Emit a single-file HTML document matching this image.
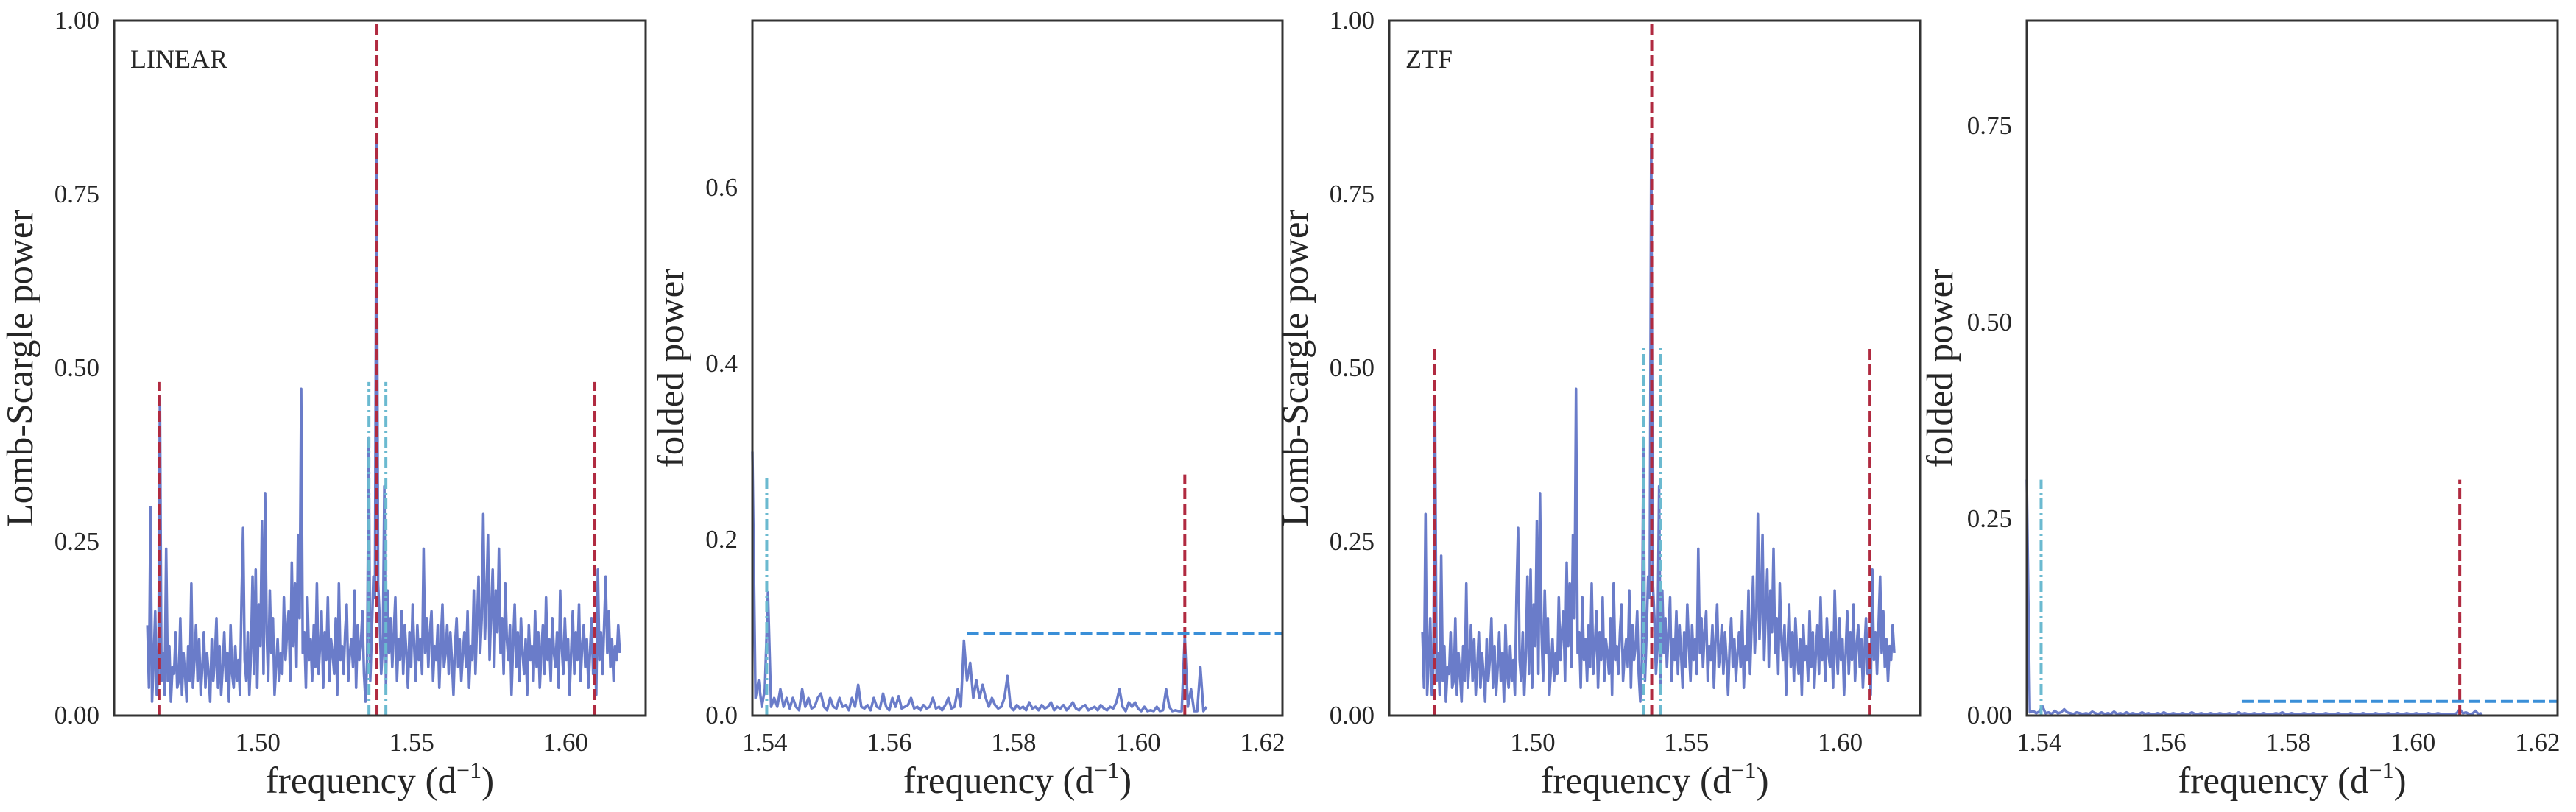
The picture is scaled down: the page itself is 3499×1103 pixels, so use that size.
<!DOCTYPE html>
<html><head><meta charset="utf-8">
<style>
html,body{margin:0;padding:0;background:#fff;}
svg{display:block;}
text{font-family:"Liberation Serif","DejaVu Serif",serif;fill:#262626;}
</style></head>
<body>
<svg id="fig" width="3499" height="1103" viewBox="0 0 3499 1103" xmlns="http://www.w3.org/2000/svg"></svg>
<script>
// ---- data ----
const lsStart = 1.4641, lsStep = 0.00051;
const linearPower = [
0.13,0.04,0.30,0.02,0.08,0.15,0.03,0.06,0.46,0.05,
0.09,0.03,0.24,0.05,0.10,0.02,0.07,0.06,0.12,0.04,
0.05,0.14,0.03,0.09,0.06,0.02,0.10,0.05,0.19,0.04,
0.08,0.13,0.05,0.11,0.03,0.07,0.12,0.04,0.09,0.06,
0.02,0.11,0.05,0.08,0.14,0.04,0.10,0.03,0.07,0.12,
0.05,0.09,0.02,0.13,0.06,0.04,0.10,0.05,0.08,0.03,
0.17,0.27,0.08,0.05,0.12,0.03,0.09,0.20,0.06,0.21,
0.04,0.16,0.10,0.28,0.06,0.32,0.12,0.05,0.18,0.09,
0.14,0.03,0.07,0.11,0.05,0.09,0.06,0.17,0.08,0.12,
0.15,0.05,0.22,0.10,0.19,0.07,0.26,0.14,0.47,0.09,
0.12,0.04,0.17,0.08,0.11,0.05,0.13,0.07,0.19,0.06,
0.10,0.15,0.04,0.12,0.08,0.17,0.05,0.11,0.09,0.06,
0.14,0.03,0.19,0.08,0.10,0.06,0.12,0.16,0.05,0.09,
0.11,0.07,0.18,0.04,0.13,0.08,0.10,0.15,0.06,0.02,
0.08,0.40,0.05,0.12,0.20,0.17,0.83,0.19,0.14,0.06,
0.10,0.33,0.04,0.18,0.09,0.14,0.07,0.12,0.17,0.05,
0.11,0.08,0.15,0.06,0.13,0.09,0.04,0.12,0.07,0.16,
0.10,0.05,0.13,0.08,0.11,0.06,0.24,0.09,0.14,0.07,
0.12,0.15,0.05,0.10,0.08,0.13,0.04,0.11,0.16,0.07,
0.09,0.13,0.06,0.12,0.08,0.03,0.10,0.14,0.07,0.11,
0.05,0.09,0.12,0.07,0.15,0.04,0.10,0.08,0.18,0.06,
0.13,0.20,0.09,0.14,0.29,0.11,0.17,0.26,0.08,0.15,
0.21,0.07,0.18,0.12,0.24,0.09,0.14,0.06,0.19,0.11,
0.08,0.13,0.03,0.10,0.16,0.07,0.12,0.05,0.14,0.09,
0.06,0.11,0.03,0.13,0.08,0.10,0.05,0.15,0.07,0.12,
0.04,0.09,0.13,0.06,0.17,0.08,0.11,0.05,0.14,0.09,
0.07,0.12,0.04,0.18,0.10,0.06,0.14,0.08,0.11,0.03,
0.09,0.15,0.06,0.12,0.08,0.16,0.05,0.10,0.13,0.07,
0.11,0.04,0.09,0.14,0.06,0.10,0.03,0.21,0.08,0.12,
0.06,0.13,0.20,0.09,0.15,0.07,0.11,0.05,0.10,0.08,0.13,0.09];
const ztfPower = [
0.12,0.04,0.29,0.03,0.08,0.14,0.03,0.07,0.46,0.05,
0.09,0.03,0.23,0.05,0.10,0.02,0.07,0.06,0.12,0.04,
0.05,0.14,0.03,0.09,0.06,0.02,0.10,0.05,0.19,0.04,
0.08,0.13,0.05,0.11,0.03,0.07,0.12,0.04,0.09,0.06,
0.02,0.11,0.05,0.08,0.14,0.04,0.10,0.03,0.07,0.12,
0.05,0.09,0.02,0.13,0.06,0.04,0.10,0.05,0.08,0.03,
0.17,0.27,0.08,0.05,0.12,0.03,0.09,0.20,0.06,0.21,
0.04,0.16,0.10,0.28,0.06,0.32,0.12,0.05,0.18,0.09,
0.14,0.03,0.07,0.11,0.05,0.09,0.06,0.17,0.08,0.12,
0.15,0.05,0.22,0.10,0.19,0.07,0.26,0.14,0.47,0.09,
0.12,0.04,0.17,0.08,0.11,0.05,0.13,0.07,0.19,0.06,
0.10,0.15,0.04,0.12,0.08,0.17,0.05,0.11,0.09,0.06,
0.14,0.03,0.19,0.08,0.10,0.06,0.12,0.16,0.05,0.09,
0.11,0.07,0.18,0.04,0.13,0.08,0.10,0.15,0.06,0.02,
0.08,0.40,0.05,0.12,0.20,0.17,0.83,0.19,0.14,0.06,
0.10,0.33,0.04,0.18,0.09,0.14,0.07,0.12,0.17,0.05,
0.11,0.08,0.15,0.06,0.13,0.09,0.04,0.12,0.07,0.16,
0.10,0.05,0.13,0.08,0.11,0.06,0.24,0.09,0.14,0.07,
0.12,0.15,0.05,0.10,0.08,0.13,0.04,0.11,0.16,0.07,
0.09,0.13,0.06,0.12,0.08,0.03,0.10,0.14,0.07,0.11,
0.05,0.09,0.12,0.07,0.15,0.04,0.10,0.08,0.18,0.06,
0.13,0.20,0.09,0.14,0.29,0.11,0.17,0.26,0.08,0.15,
0.21,0.07,0.18,0.12,0.24,0.09,0.14,0.06,0.19,0.11,
0.08,0.13,0.03,0.10,0.16,0.07,0.12,0.05,0.14,0.09,
0.06,0.11,0.03,0.13,0.08,0.10,0.05,0.15,0.07,0.12,
0.04,0.09,0.13,0.06,0.17,0.08,0.11,0.05,0.14,0.09,
0.07,0.12,0.04,0.18,0.10,0.06,0.14,0.08,0.11,0.03,
0.09,0.15,0.06,0.12,0.08,0.16,0.05,0.10,0.13,0.07,
0.11,0.04,0.09,0.14,0.06,0.10,0.03,0.21,0.08,0.12,
0.06,0.13,0.20,0.09,0.15,0.07,0.11,0.05,0.10,0.08,0.13,0.09];
const foldStart = 1.538, foldStep = 0.0005;
const linearFolded = [
0.30,0.02,0.04,0.01,0.03,0.14,0.01,0.02,0.01,0.03,
0.01,0.02,0.008,0.02,0.01,0.006,0.03,0.01,0.02,0.008,
0.01,0.02,0.025,0.01,0.006,0.02,0.01,0.008,0.02,0.01,
0.012,0.006,0.02,0.01,0.035,0.01,0.008,0.012,0.006,0.02,
0.01,0.008,0.025,0.01,0.006,0.02,0.01,0.022,0.008,0.01,
0.012,0.02,0.008,0.01,0.006,0.012,0.008,0.01,0.02,0.008,
0.01,0.006,0.012,0.02,0.008,0.01,0.03,0.01,0.085,0.04,
0.06,0.02,0.04,0.02,0.035,0.02,0.01,0.02,0.012,0.008,
0.01,0.02,0.045,0.01,0.006,0.012,0.008,0.01,0.006,0.015,
0.008,0.01,0.006,0.012,0.008,0.01,0.015,0.006,0.01,0.008,
0.012,0.006,0.01,0.015,0.008,0.006,0.01,0.012,0.006,0.008,
0.01,0.006,0.012,0.008,0.006,0.01,0.008,0.015,0.03,0.01,
0.005,0.015,0.01,0.015,0.008,0.005,0.01,0.005,0.006,0.005,
0.01,0.005,0.006,0.03,0.01,0.005,0.006,0.005,0.005,0.09,
0.01,0.03,0.005,0.005,0.055,0.005,0.01];
const ztfFolded = [
0.30,0.004,0.006,0.003,0.005,0.012,0.003,0.004,0.002,0.006,
0.003,0.004,0.008,0.004,0.003,0.002,0.004,0.003,0.002,0.003,
0.002,0.005,0.003,0.002,0.004,0.002,0.003,0.002,0.005,0.002,
0.003,0.002,0.004,0.002,0.003,0.002,0.002,0.004,0.002,0.003,
0.002,0.002,0.003,0.002,0.004,0.002,0.002,0.003,0.002,0.002,
0.003,0.002,0.002,0.004,0.002,0.002,0.003,0.002,0.002,0.003,
0.002,0.002,0.003,0.002,0.002,0.003,0.002,0.002,0.004,0.002,
0.003,0.002,0.002,0.003,0.002,0.002,0.003,0.002,0.002,0.002,
0.003,0.002,0.004,0.002,0.002,0.003,0.002,0.002,0.002,0.003,
0.002,0.002,0.003,0.002,0.002,0.002,0.003,0.002,0.002,0.002,
0.003,0.002,0.002,0.002,0.003,0.002,0.002,0.002,0.003,0.002,
0.002,0.002,0.003,0.002,0.002,0.002,0.003,0.002,0.002,0.003,
0.002,0.002,0.003,0.002,0.002,0.003,0.002,0.002,0.002,0.003,
0.002,0.002,0.003,0.002,0.002,0.002,0.002,0.002,0.003,0.008,
0.003,0.004,0.002,0.002,0.006,0.002,0.003];
const lsTicksX = [1.50, 1.55, 1.60];
const lsTicksY = [0, 0.25, 0.5, 0.75, 1.0];
const lsTickLabelsY = ["0.00","0.25","0.50","0.75","1.00"];
const foldTicksX = [1.54, 1.56, 1.58, 1.60, 1.62];
const foldTicksY2 = [0, 0.2, 0.4, 0.6];
const foldTickLabelsY2 = ["0.0","0.2","0.4","0.6"];
const foldTicksY4 = [0, 0.25, 0.5, 0.75];
const foldTickLabelsY4 = ["0.00","0.25","0.50","0.75"];
const linearMarkers = {center:1.5387, side:[1.4681, 1.6095], alias:[1.5361, 1.5416], sideTop:0.48};
const ztfMarkers = {center:1.5387, side:[1.4681, 1.6095], alias:[1.5361, 1.5416], sideTop:0.53};
const linearFoldMark = {alias:1.5403, aliasTop:0.274, red:1.6075, redTop:0.274, thrStart:1.5725, thr:0.093};
const ztfFoldMark = {alias:1.5403, aliasTop:0.30, red:1.6075, redTop:0.30, thrStart:1.5725, thr:0.018};

// ---- drawing ----
const NS = "http://www.w3.org/2000/svg";
const svg = document.getElementById('fig');
const TOP = 28, BOT = 972;
const BLUE = "#6a7cc9", RED = "#b02a40", CYAN = "#6bbad0", THR = "#3a8fd8";
function mk(tag, attrs, parent){
  const e = document.createElementNS(NS, tag);
  for (const k in attrs) e.setAttribute(k, attrs[k]);
  (parent||svg).appendChild(e); return e;
}
function panel(name, x0, x1, xmin, xmax, ymax){
  const g = mk('g', {});
  
  
  const sx = f => x0 + (f - xmin) / (xmax - xmin) * (x1 - x0);
  const sy = v => BOT - v / ymax * (BOT - TOP);
  return {g, sx, sy, x0, x1};
}
function series(p, start, step, vals, name){
  let d = '';
  vals.forEach((v,i)=>{ d += (i?'L':'M') + p.sx(start + i*step).toFixed(1) + ',' + p.sy(v).toFixed(1); });
  const e = mk('path', {d, fill:'none', stroke:BLUE, 'stroke-width':3.5, 'stroke-linejoin':'round'}, p.g);
  
  
}
function vline(p, f, top, color, dash, name){
  const e = mk('line', {x1:p.sx(f), x2:p.sx(f), y1:p.sy(0), y2:p.sy(top), stroke:color, 'stroke-width':4, 'stroke-dasharray':dash}, p.g);
  
  
}
function frame(p){
  const e = mk('rect', {x:p.x0, y:TOP, width:p.x1-p.x0, height:BOT-TOP, fill:'none', stroke:'#333', 'stroke-width':3}, p.g);
  
  
}
function ticks(p, xt, xdec, yt, ylab){
  xt.forEach(t=>{
    const e = mk('text', {x:p.sx(t), y:1020, 'font-size':35, 'text-anchor':'middle'}, p.g);
    e.textContent = t.toFixed(xdec);
    
    
  });
  yt.forEach((t,i)=>{
    const e = mk('text', {x:p.x0-20, y:p.sy(t)+11, 'font-size':35, 'text-anchor':'end'}, p.g);
    e.textContent = ylab[i];
    
    
  });
  const xl = mk('text', {x:(p.x0+p.x1)/2, y:1077, 'font-size':51, 'text-anchor':'middle'}, p.g);
  xl.innerHTML = 'frequency (d<tspan dy="-20" font-size="32">−1</tspan><tspan dy="20">)</tspan>';
  
  
}
function ylabel(p, x, txt){
  const e = mk('text', {x:0, y:0, 'font-size':51, 'text-anchor':'middle', transform:`translate(${x},500) rotate(-90)`}, p.g);
  e.textContent = txt;
  
  
}
function lsPanel(name, x0, x1, vals, mark, tag, ylx){
  const p = panel(name, x0, x1, 1.4533, 1.6260, 1.0);
  series(p, lsStart, lsStep, vals, 'power-spectrum-line');
  mark.alias.forEach(f=>vline(p, f, mark.sideTop, CYAN, '15 5 3 5', 'alias-line'));
  vline(p, mark.center, 1.0, RED, '15 6', 'peak-frequency-line');
  mark.side.forEach(f=>vline(p, f, mark.sideTop, RED, '15 6', 'sideband-line'));
  frame(p);
  ticks(p, lsTicksX, 2, lsTicksY, lsTickLabelsY);
  ylabel(p, ylx, 'Lomb-Scargle power');
  const t = mk('text', {x:x0+22, y:92, 'font-size':36}, p.g);
  t.textContent = tag;
  
  
}
function foldPanel(name, x0, x1, vals, mark, ymax, yt, ylab, ylx){
  const p = panel(name, x0, x1, 1.5380, 1.6232, ymax);
  series(p, foldStart, foldStep, vals, 'folded-power-line');
  vline(p, mark.alias, mark.aliasTop, CYAN, '15 5 3 5', 'alias-line');
  vline(p, mark.red, mark.redTop, RED, '15 6', 'sideband-line');
  const h = mk('line', {x1:p.sx(mark.thrStart), x2:x1, y1:p.sy(mark.thr), y2:p.sy(mark.thr), stroke:THR, 'stroke-width':4, 'stroke-dasharray':'16 6'}, p.g);
  
  
  frame(p);
  ticks(p, foldTicksX, 2, yt, ylab);
  ylabel(p, ylx, 'folded power');
}
lsPanel('linear-periodogram-panel', 155, 877, linearPower, linearMarkers, 'LINEAR', 44);
foldPanel('linear-folded-panel', 1022, 1742, linearFolded, linearFoldMark, 0.79, foldTicksY2, foldTickLabelsY2, 928);
lsPanel('ztf-periodogram-panel', 1887, 2608, ztfPower, ztfMarkers, 'ZTF', 1776);
foldPanel('ztf-folded-panel', 2753, 3474, ztfFolded, ztfFoldMark, 0.884, foldTicksY4, foldTickLabelsY4, 2652);
</script>
</body></html>
